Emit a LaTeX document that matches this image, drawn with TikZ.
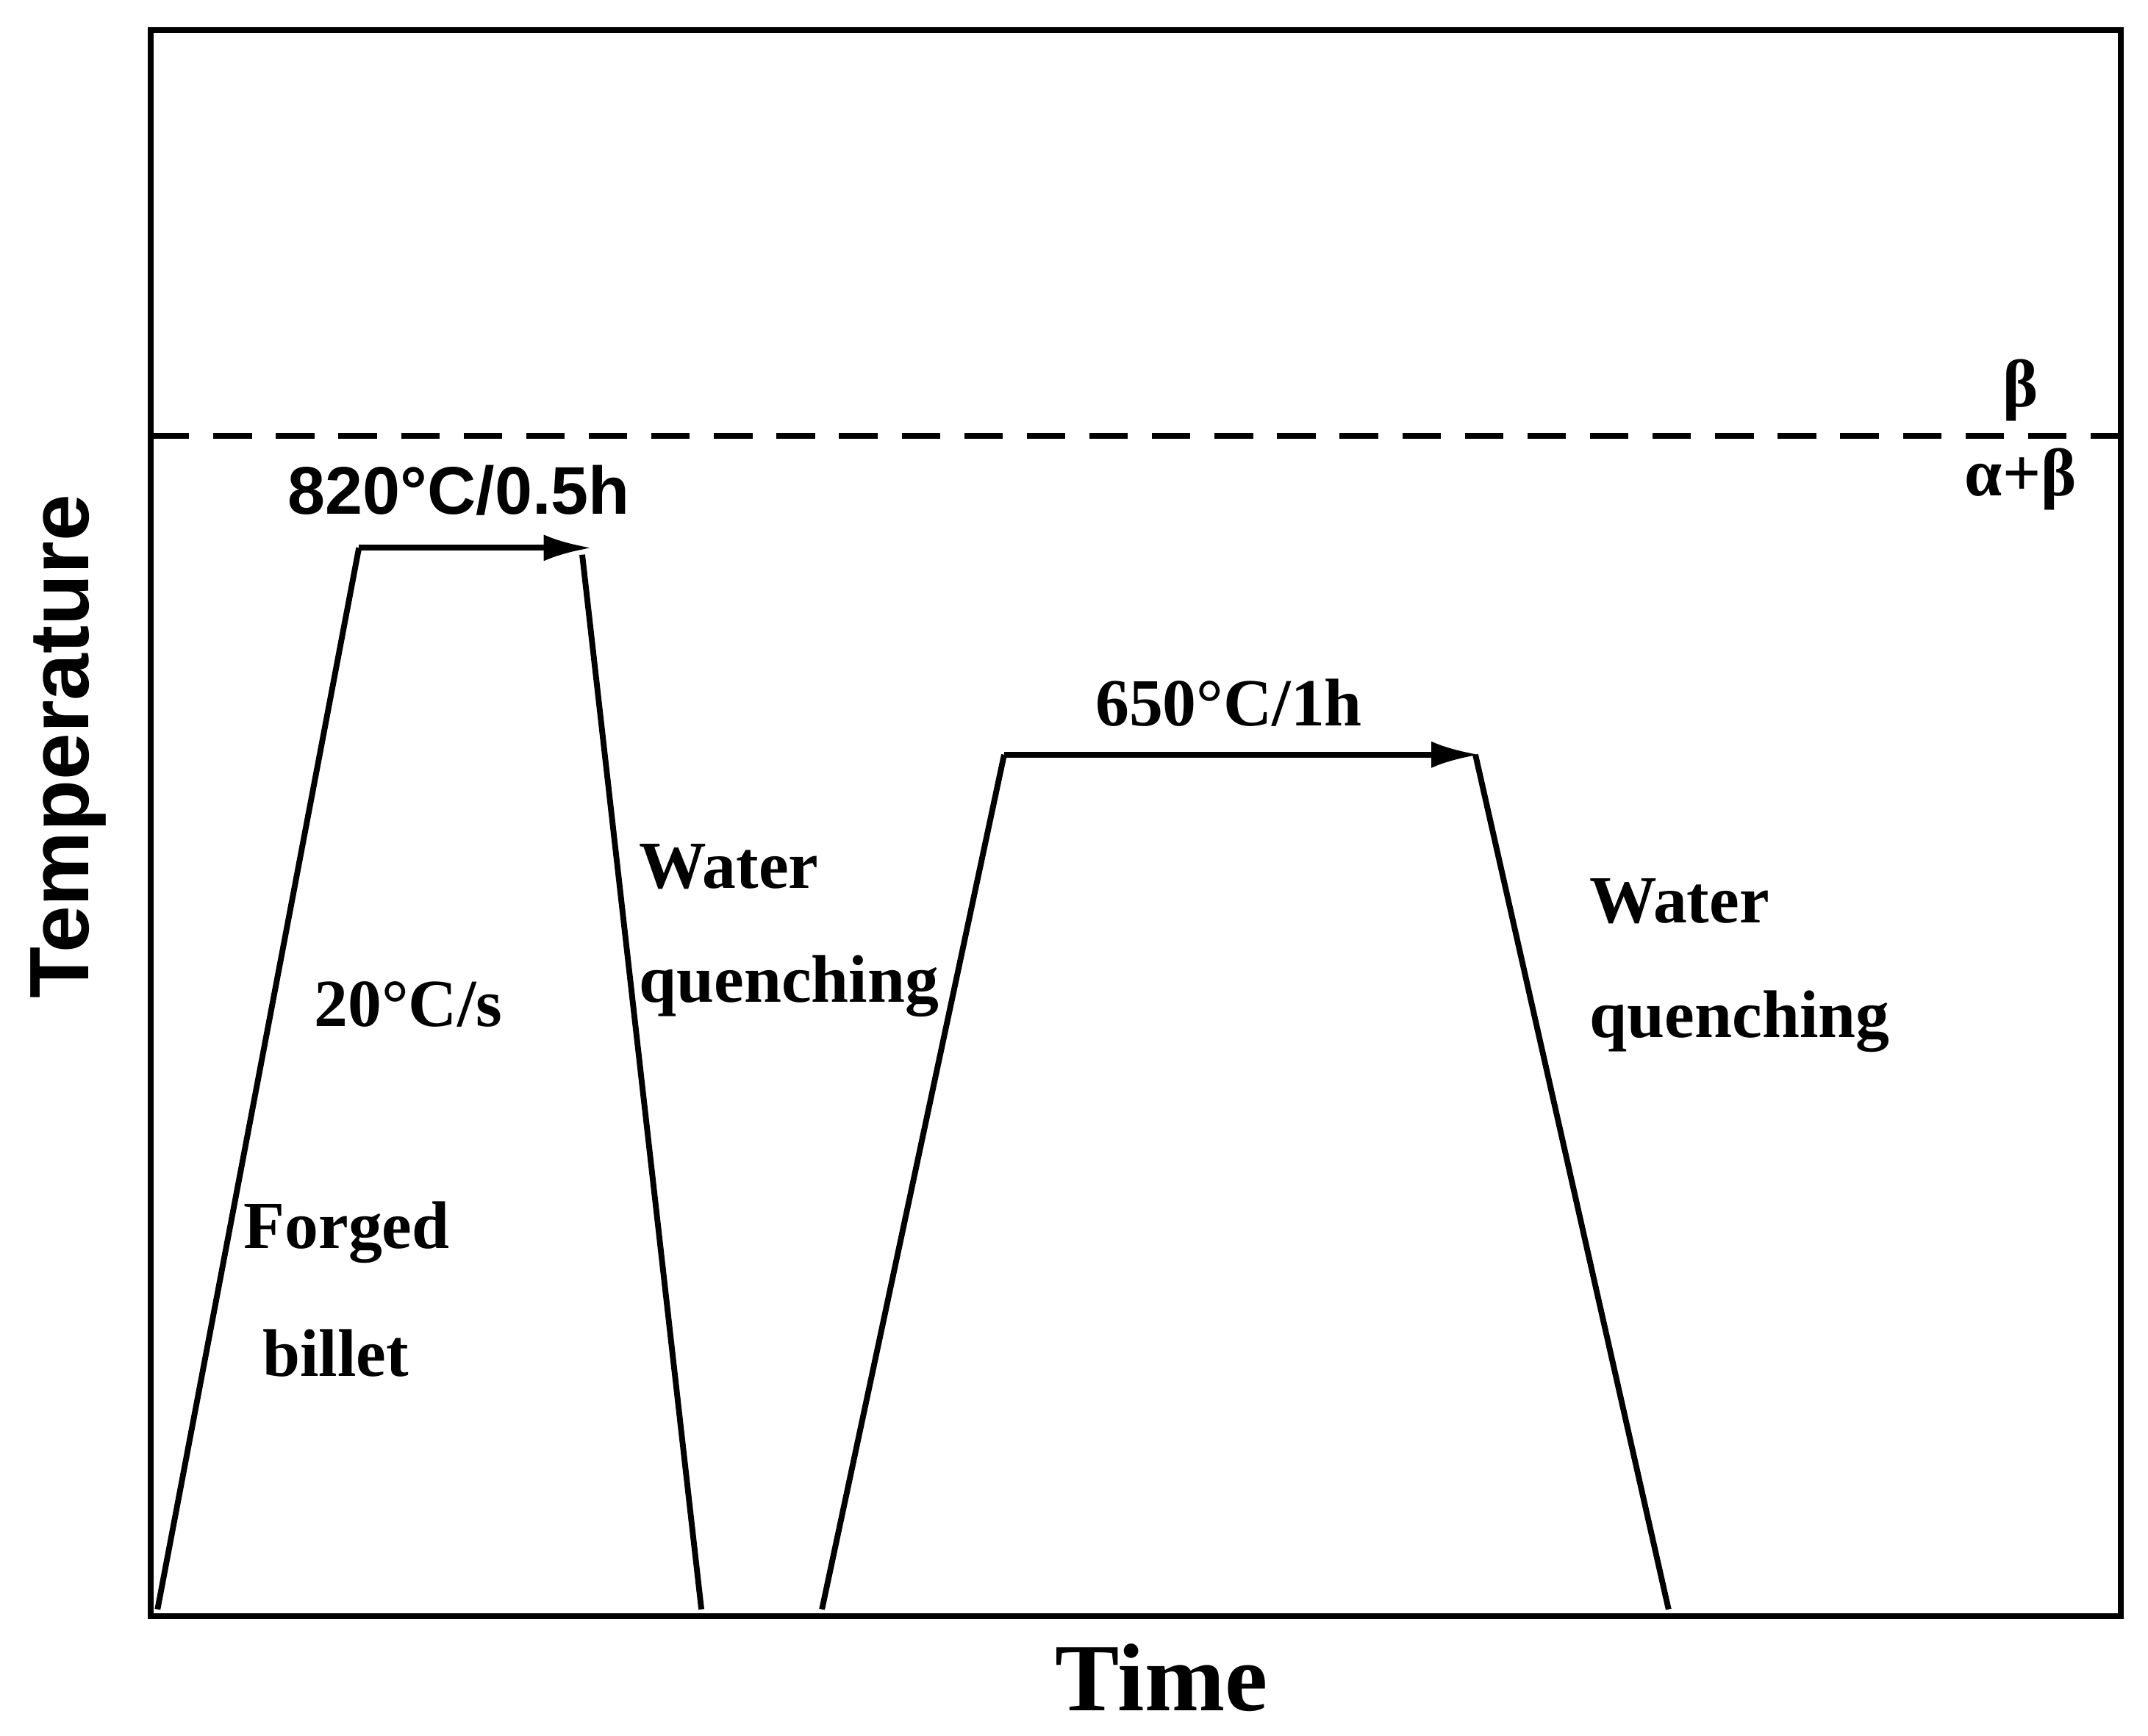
\documentclass[tikz,border=0pt]{standalone}
\usepackage{fontspec}
\setmainfont{Liberation Serif}
\setsansfont{Liberation Sans}
\usetikzlibrary{arrows.meta}
\begin{document}
\begin{tikzpicture}[x=0.02cm,y=-0.02cm,
  ln/.style={line width=2.4pt},
  lab/.style={font=\fontsize{28}{32}\selectfont\bfseries},
  slab/.style={font=\fontsize{28}{32}\selectfont\sffamily\bfseries},
  arr/.style={ln,-{Latex[length=20pt,width=11pt]}}]
\useasboundingbox (0,0) rectangle (1568,1267);
\draw[ln] (110,22) rectangle (1548,1180);
\coordinate (dl) at (110,318); \coordinate (dr) at (1548,318);
\draw[ln,dash pattern=on 16pt off 10pt] (dl) -- (dr);
\coordinate (a0) at (115,1175); \coordinate (a1) at (262,400);
\coordinate (a2) at (432,400); \coordinate (a3) at (425,405); \coordinate (a4) at (512,1175);
\draw[ln] (a0) -- (a1); \draw[arr] (a1) -- (a2); \draw[ln] (a3) -- (a4);
\coordinate (b0) at (600,1175); \coordinate (b1) at (733,551);
\coordinate (b2) at (1080,551); \coordinate (b3) at (1077,551); \coordinate (b4) at (1218,1175);
\draw[ln] (b0) -- (b1); \draw[arr] (b1) -- (b2); \draw[ln] (b3) -- (b4);
\node[slab] (t1) at (335,358) {820°C/0.5h};
\node[lab] (t2) at (897,513) {650°C/1h};
\node[lab] (t3) at (298,733) {20°C/s};
\node[lab] (t4) at (253,900) {Forged};
\node[lab] (t5) at (245,988) {billet};
\node[lab] (t6) at (532,633) {Water};
\node[lab] (t7) at (576,720) {quenching};
\node[lab] (t8) at (1226,658) {Water};
\node[lab] (t9) at (1270,746) {quenching};
\node[lab] (t10) at (1475,285) {β};
\node[lab] (t11) at (1475,350) {α+β};
\node[font=\fontsize{40}{44}\selectfont\bfseries] (tx) at (848,1225) {Time};
\node[font=\fontsize{35}{40}\selectfont\sffamily\bfseries,rotate=90] (ty) at (50,545) {Temperature};
\end{tikzpicture}
\end{document}
